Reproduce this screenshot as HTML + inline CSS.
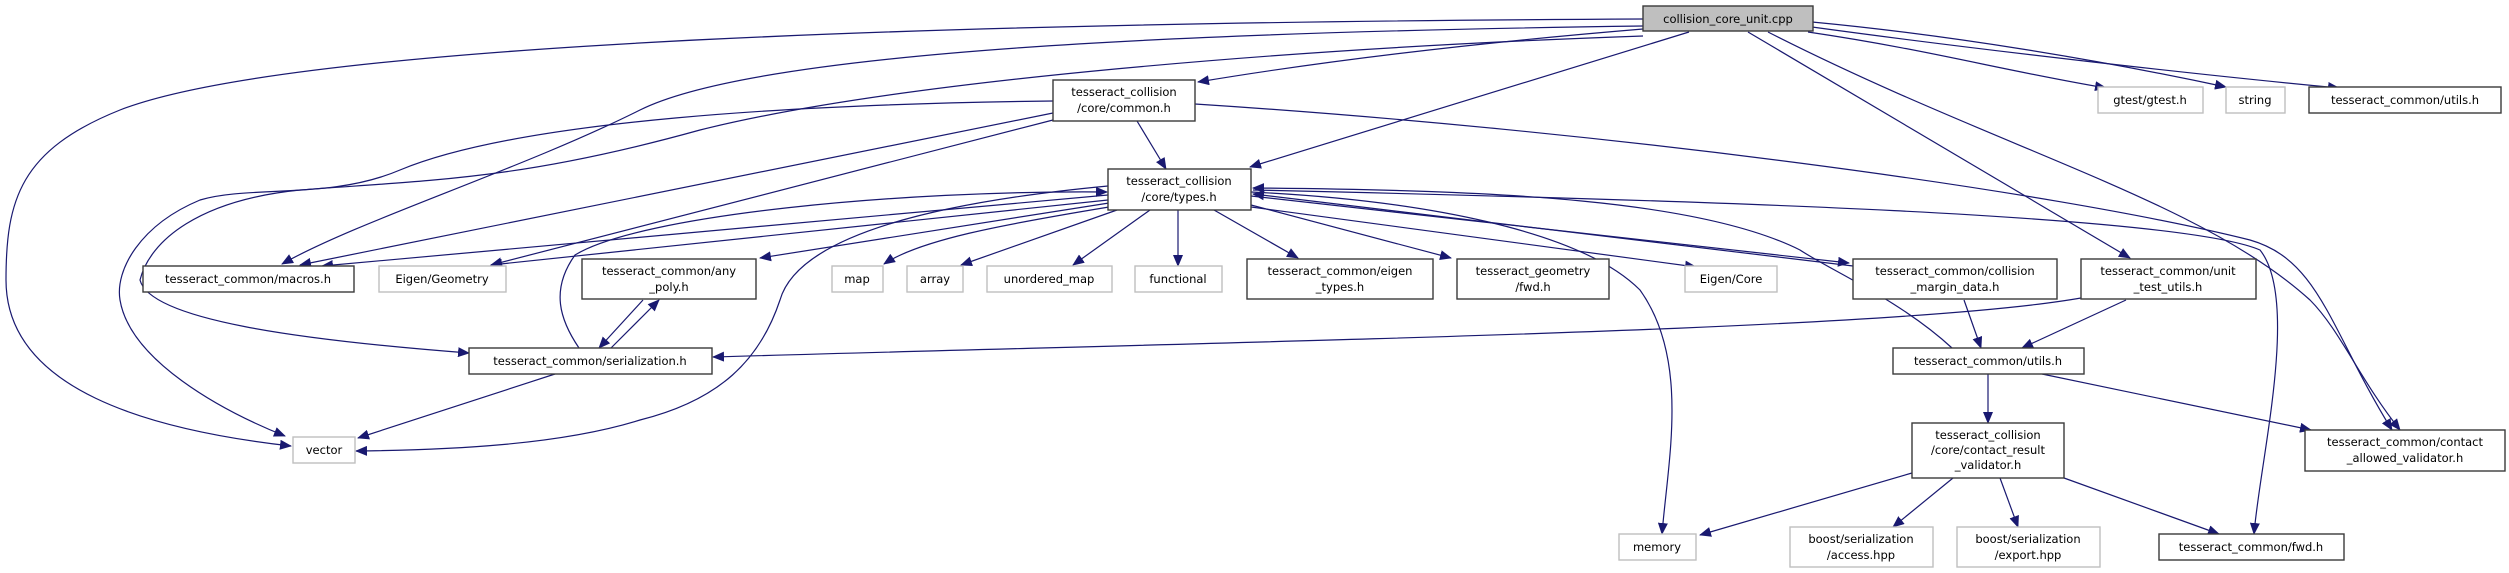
<!DOCTYPE html>
<html><head><meta charset="utf-8"><style>
html,body{margin:0;padding:0;background:#fff;}
svg{display:block;}
text{font-family:"DejaVu Sans","Liberation Sans",sans-serif;font-size:11.5px;fill:#000;text-anchor:middle;}
.n{fill:#fff;stroke:#3a3a3a;stroke-width:1.4;}
.g{fill:#fff;stroke:#bfbfbf;stroke-width:1.4;}
.e{fill:none;stroke:#191970;stroke-width:1.2;marker-end:url(#a);}
</style></head><body>
<svg width="2509" height="573" viewBox="0 0 2509 573" xmlns="http://www.w3.org/2000/svg">
<defs><marker id="a" markerUnits="userSpaceOnUse" markerWidth="12" markerHeight="10" refX="11" refY="5" orient="auto"><path d="M0,0L12,5L0,10z" fill="#191970"/></marker></defs>

<!-- edges -->
<path class="e" d="M1643,19 C1000,22 300,40 120,110 C20,150 6,200 6,280 C6,390 150,430 291,446"/>
<path class="e" d="M1643,26 C1200,32 760,50 640,110 C520,170 360,220 282,264"/>
<path class="e" d="M1643,36 C1300,48 900,80 700,130 C520,180 430,180 300,190 C200,200 150,240 140,280 C150,320 300,340 469,353"/>
<path class="e" d="M1053,101 C800,104 520,120 400,170 C330,200 250,185 200,200 C140,225 115,270 120,300 C130,360 220,410 285,436"/>
<path class="e" d="M1053,113 L300,265"/>
<path class="e" d="M1053,120 L491,265"/>
<path class="e" d="M1643,29 C1450,45 1300,65 1198,82"/>
<path class="e" d="M1137,121 L1166,169"/>
<path class="e" d="M1689,32 L1250,167"/>
<path class="e" d="M1195,104 C1600,130 2050,190 2250,240 C2320,260 2330,330 2392,430"/>
<path class="e" d="M1768,32 C2000,150 2200,200 2310,300 C2340,330 2360,380 2400,430"/>
<path class="e" d="M1748,32 L2130,258"/>
<path class="e" d="M1808,32 C1930,50 2000,70 2106,88"/>
<path class="e" d="M1812,22 C1950,35 2100,60 2226,87"/>
<path class="e" d="M1812,27 C1980,50 2200,75 2339,88"/>

<path class="e" d="M1108,195 L322,266"/>
<path class="e" d="M1108,200 L491,265"/>
<path class="e" d="M1109,203 L760,258"/>
<path class="e" d="M1109,207 C1000,225 920,240 884,264"/>
<path class="e" d="M1117,210 L961,265"/>
<path class="e" d="M1150,210 L1073,265"/>
<path class="e" d="M1178,210 L1178,266"/>
<path class="e" d="M1214,210 L1298,258"/>
<path class="e" d="M1251,205 L1451,258"/>
<path class="e" d="M1251,207 L1696,267"/>
<path class="e" d="M1251,196 L1849,263"/>
<path class="e" d="M1853,266 L1253,194"/>
<path class="e" d="M1251,192 C1420,200 1580,230 1640,290 C1690,360 1668,460 1662,534"/>
<path class="e" d="M1253,190 C1700,200 2180,215 2260,250 C2300,300 2260,460 2254,534"/>
<path class="e" d="M1108,186 C960,200 800,230 780,300 C760,360 720,400 640,420 C560,445 450,450 356,451"/>
<path class="e" d="M579,348 C560,320 550,290 575,255 C640,215 900,190 1107,192"/>
<path class="e" d="M611,348 L659,300"/>
<path class="e" d="M643,300 L599,348"/>
<path class="e" d="M555,374 L358,438"/>
<path class="e" d="M1952,348 C1900,300 1830,270 1800,250 C1700,200 1500,190 1253,188"/>
<path class="e" d="M1964,300 L1981,348"/>
<path class="e" d="M2126,300 L2022,348"/>
<path class="e" d="M2081,298 C1900,330 1300,340 713,357"/>
<path class="e" d="M1988,374 L1988,423"/>
<path class="e" d="M2042,374 L2311,430"/>
<path class="e" d="M1912,473 L1700,535"/>
<path class="e" d="M1953,478 L1893,527"/>
<path class="e" d="M2000,478 L2018,527"/>
<path class="e" d="M2064,478 L2219,534"/>

<!-- nodes -->
<rect x="1643" y="6" width="170" height="25" fill="#bfbfbf" stroke="#3a3a3a" stroke-width="1.4"/>
<text x="1728" y="23">collision_core_unit.cpp</text>

<rect class="n" x="1053" y="80" width="142" height="41"/>
<text x="1124" y="96">tesseract_collision</text><text x="1124" y="112">/core/common.h</text>

<rect class="n" x="1108" y="169" width="143" height="41"/>
<text x="1179" y="185">tesseract_collision</text><text x="1179" y="201">/core/types.h</text>

<rect class="g" x="2098" y="87" width="105" height="26"/><text x="2150" y="104">gtest/gtest.h</text>
<rect class="g" x="2226" y="87" width="59" height="26"/><text x="2255" y="104">string</text>
<rect class="n" x="2309" y="87" width="192" height="26"/><text x="2405" y="104">tesseract_common/utils.h</text>

<rect class="n" x="143" y="266" width="211" height="26"/><text x="248" y="283">tesseract_common/macros.h</text>
<rect class="g" x="379" y="266" width="127" height="26"/><text x="442" y="283">Eigen/Geometry</text>
<rect class="n" x="582" y="259" width="174" height="40"/><text x="669" y="275">tesseract_common/any</text><text x="669" y="291">_poly.h</text>
<rect class="g" x="832" y="266" width="51" height="26"/><text x="857" y="283">map</text>
<rect class="g" x="907" y="266" width="56" height="26"/><text x="935" y="283">array</text>
<rect class="g" x="987" y="266" width="125" height="26"/><text x="1049" y="283">unordered_map</text>
<rect class="g" x="1135" y="266" width="87" height="26"/><text x="1178" y="283">functional</text>
<rect class="n" x="1247" y="259" width="186" height="40"/><text x="1340" y="275">tesseract_common/eigen</text><text x="1340" y="291">_types.h</text>
<rect class="n" x="1457" y="259" width="152" height="40"/><text x="1533" y="275">tesseract_geometry</text><text x="1533" y="291">/fwd.h</text>
<rect class="g" x="1685" y="266" width="92" height="26"/><text x="1731" y="283">Eigen/Core</text>
<rect class="n" x="1853" y="259" width="204" height="40"/><text x="1955" y="275">tesseract_common/collision</text><text x="1955" y="291">_margin_data.h</text>
<rect class="n" x="2081" y="259" width="175" height="40"/><text x="2168" y="275">tesseract_common/unit</text><text x="2168" y="291">_test_utils.h</text>

<rect class="n" x="469" y="348" width="243" height="26"/><text x="590" y="365">tesseract_common/serialization.h</text>
<rect class="n" x="1893" y="348" width="191" height="26"/><text x="1988" y="365">tesseract_common/utils.h</text>
<rect class="g" x="293" y="437" width="62" height="26"/><text x="324" y="454">vector</text>

<rect class="n" x="1912" y="423" width="152" height="55"/><text x="1988" y="439">tesseract_collision</text><text x="1988" y="454">/core/contact_result</text><text x="1988" y="469">_validator.h</text>
<rect class="n" x="2305" y="430" width="200" height="41"/><text x="2405" y="446">tesseract_common/contact</text><text x="2405" y="462">_allowed_validator.h</text>

<rect class="g" x="1619" y="534" width="77" height="26"/><text x="1657" y="551">memory</text>
<rect class="g" x="1790" y="527" width="143" height="40"/><text x="1861" y="543">boost/serialization</text><text x="1861" y="559">/access.hpp</text>
<rect class="g" x="1957" y="527" width="143" height="40"/><text x="2028" y="543">boost/serialization</text><text x="2028" y="559">/export.hpp</text>
<rect class="n" x="2159" y="534" width="185" height="26"/><text x="2251" y="551">tesseract_common/fwd.h</text>
</svg>
</body></html>
